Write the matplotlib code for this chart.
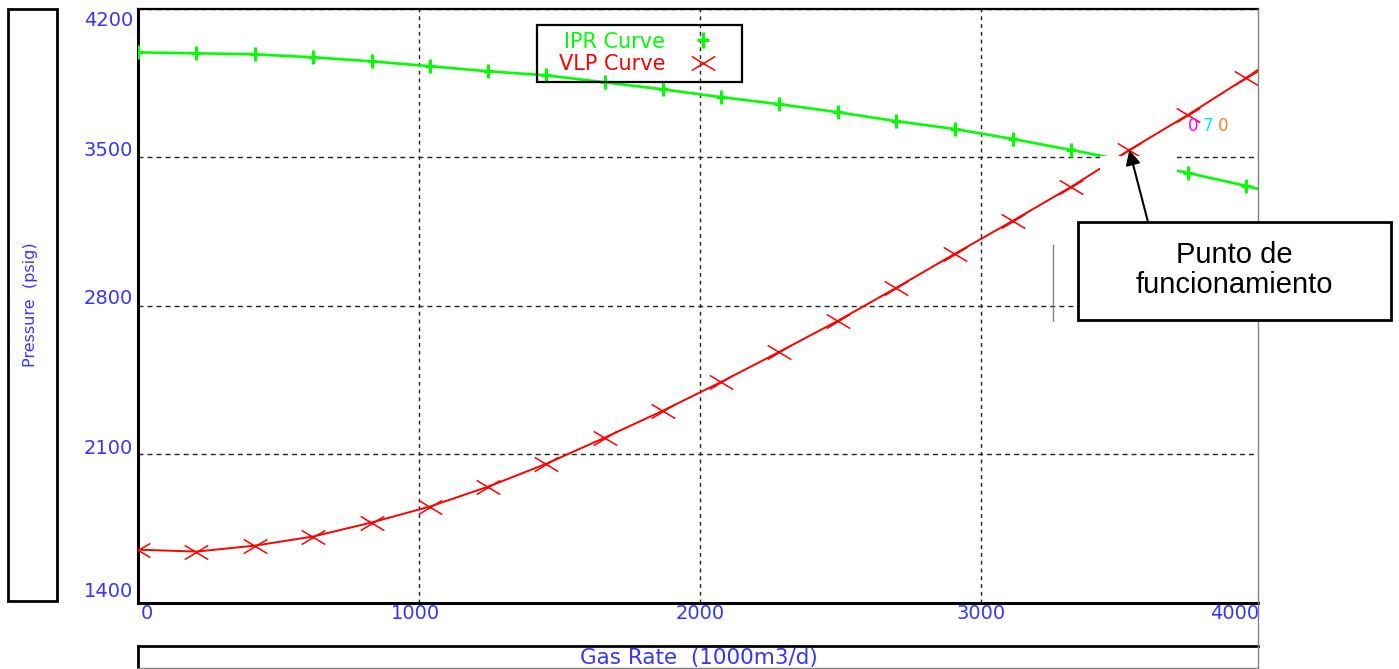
import matplotlib
matplotlib.use('Agg')
import matplotlib.pyplot as plt
from matplotlib.path import Path
from matplotlib.lines import Line2D
from matplotlib.patches import Rectangle
from matplotlib.transforms import Bbox, TransformedBbox

# gas rate (1000m3/d) and pressures (psig)
rates = [0, 207, 415, 622, 830, 1037, 1245, 1452, 1660, 1867, 2075,
         2282, 2490, 2697, 2905, 3112, 3320, 3527, 3735, 3942, 4150]
ipr = [3993, 3989, 3984, 3970, 3951, 3928, 3904, 3885, 3852, 3819, 3782,
       3749, 3711, 3669, 3632, 3585, 3533, 3480, 3425, 3364, 3297]
vlp = [1649, 1640, 1668, 1711, 1777, 1852, 1946, 2054, 2177, 2304, 2440,
       2582, 2728, 2883, 3043, 3199, 3359, 3533, 3698, 3872, 4060]

op_rate, op_pressure = 3527, 3533   # operating point (VLP marker)

x_ticks = [0, 1000, 2000, 3000, 4000]
y_ticks = [1400, 2100, 2800, 3500, 4200]

BLUE = '#3535ff'
GREEN = '#00ff00'
RED = '#ff0000'
W, H = 1399, 669


def fr(x0, y0, x1, y1):
    # pixel box (top-left origin) -> figure fraction rect
    return [x0 / W, 1 - y1 / H, (x1 - x0) / W, (y1 - y0) / H]


def fline(xs, ys, **kw):
    fig.add_artist(Line2D([x / W for x in xs], [1 - y / H for y in ys],
                          transform=fig.transFigure, **kw))


def fbox(x0, y0, x1, y1, **kw):
    r = fr(x0, y0, x1, y1)
    fig.add_artist(Rectangle((r[0], r[1]), r[2], r[3],
                             transform=fig.transFigure, **kw))


plus_mk = Path([(-0.75, 0), (0.75, 0), (0, -1), (0, 1)],
               [Path.MOVETO, Path.LINETO, Path.MOVETO, Path.LINETO])
x_mk = Path([(-1, -0.6), (1, 0.6), (-1, 0.6), (1, -0.6)],
            [Path.MOVETO, Path.LINETO, Path.MOVETO, Path.LINETO])

plt.rcParams['font.family'] = ['DejaVu Sans']

fig = plt.figure(figsize=(W / 100, H / 100), dpi=100)
ax = fig.add_axes(fr(138.3, 8.5, 1258, 602.5))

ax.plot(rates, ipr, color=GREEN, lw=1.9, marker=plus_mk, ms=9.5, mew=2.2,
        zorder=3)
ax.plot(rates, vlp, color=RED, lw=1.4, marker=x_mk, ms=17, mew=1.1,
        zorder=3)

ax.set_xlim(0, 3985)
ax.set_ylim(1400, 4200)
ax.set_xticks(x_ticks[:-1])
ax.set_yticks(y_ticks)
ax.set_xticklabels([])
ax.set_yticklabels([])
ax.tick_params(length=0)
ax.set_axisbelow(True)
ax.xaxis.grid(True, color='#222222', lw=1.0, ls=(0, (2.8, 2.8)))
ax.yaxis.grid(True, color='#222222', lw=1.0, ls=(0, (3.6, 2.9)))

ax.spines['right'].set_visible(False)
ax.spines['top'].set_linewidth(1.6)
ax.spines['left'].set_linewidth(2.2)
ax.spines['bottom'].set_linewidth(2.2)

# tick labels, placed like the original program does it
y_shift = {1400: 11, 2100: 6, 2800: 7, 3500: 6, 4200: -12}
for t in y_ticks:
    ax.annotate(str(t), xy=(0, t), xycoords=('axes fraction', 'data'),
                xytext=(-5, y_shift[t]), textcoords='offset pixels',
                ha='right', va='center', color=BLUE, fontsize=14,
                annotation_clip=False)

x_shift = {0: 9, 1000: -4, 2000: 0, 3000: 0, 4000: -28}
clip = TransformedBbox(Bbox([[0, 0], [1258 / W, 1]]), fig.transFigure)
for t in x_ticks:
    a = ax.annotate(str(t), xy=(t, 0), xycoords=('data', 'axes fraction'),
                    xytext=(x_shift[t], -11), textcoords='offset pixels',
                    ha='center', va='center', color=BLUE, fontsize=14,
                    annotation_clip=False)
    a.set_clip_box(clip)
    a.set_clip_on(True)

# white patch left over in the screenshot
ax.add_patch(Rectangle((3422, 3200), 274, 304, fc='white', ec='none',
                       zorder=4))

# legend: text then marker, with its own box
handles = [Line2D([], [], ls='none', color=GREEN, marker=plus_mk, ms=11,
                  mew=2.2),
           Line2D([], [], ls='none', color=RED, marker=x_mk, ms=17,
                  mew=1.1)]
leg = ax.legend(handles, ['IPR Curve', 'VLP Curve'], loc='center',
                bbox_to_anchor=(639 / W, 1 - 53 / H),
                bbox_transform=fig.transFigure, markerfirst=False,
                labelcolor=[GREEN, RED], fontsize=15, handlelength=1.6,
                handletextpad=1.0, labelspacing=0.12, borderpad=0.3,
                borderaxespad=0, frameon=False)
fbox(537, 25, 742, 82, fc='none', ec='black', lw=1.6)

# little coloured label near the top right
for ch, col, px in [('0', '#ff00ff', 1193), ('7', '#00e8ff', 1208),
                    ('0', '#ff8020', 1223)]:
    fig.text(px / W, 1 - 126 / H, ch, color=col, fontsize=12,
             ha='center', va='center')

# y label box
fbox(8, 9, 57, 601, fc='none', ec='black', lw=2)
fig.text(31 / W, 1 - 305 / H, 'Pressure  (psig)', rotation=90, color=BLUE,
         fontsize=11.5, ha='center', va='center')

# x label box
fline([138, 1258], [646, 646], color='black', lw=2)
fline([138, 138], [646, 669], color='black', lw=2)
fline([138, 1258], [668, 668], color='#808080', lw=1)
fig.text(699 / W, 1 - 658 / H, 'Gas Rate  (1000m3/d)', color=BLUE,
         fontsize=15.5, ha='center', va='center')

# right border and stray line
fline([1258, 1258], [9, 669], color='#808080', lw=1)
fline([1053, 1053], [245, 321], color='#808080', lw=1)

# annotation box
fbox(1078, 222, 1391, 320, fc='white', ec='black', lw=2, zorder=5)
fig.text(1234 / W, 1 - 270 / H, 'Punto de\nfuncionamiento', color='black',
         fontsize=21, family='Liberation Sans', ha='center', va='center',
         linespacing=1.05, zorder=6)
ax.annotate('', xy=(op_rate, op_pressure), xycoords='data',
            xytext=(1148 / W, 1 - 222 / H), textcoords='figure fraction',
            arrowprops=dict(arrowstyle='-|>', color='black', lw=1.5,
                            mutation_scale=22, shrinkA=0, shrinkB=0),
            annotation_clip=False, zorder=6)

fig.savefig('out.png', dpi=100)
